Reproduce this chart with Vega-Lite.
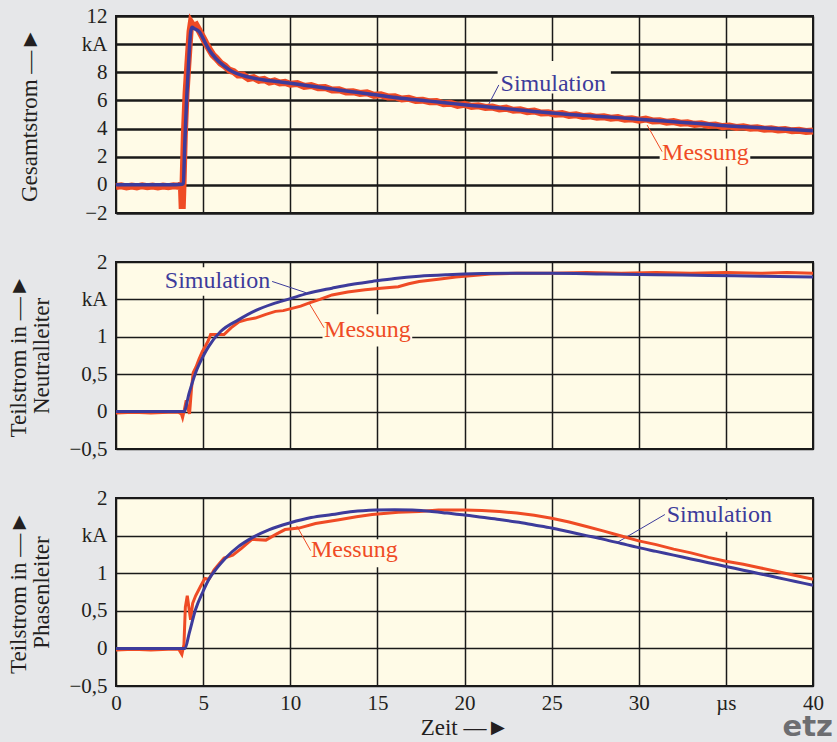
{
  "$schema": "https://vega.github.io/schema/vega-lite/v6.json",
  "background": "#e6e7e9",
  "padding": {"left": 6, "top": 4, "right": 20, "bottom": 0},
  "bounds": "flush",
  "spacing": 49,
  "title": {"text": "etz", "orient": "bottom", "anchor": "end", "font": "DejaVu Sans", "fontSize": 29, "fontWeight": "bold", "color": "#6d6e71", "offset": -27, "dx": 5},
  "datasets": {
    "curves": [
      {"p":1,"s":"Simulation","t":0,"v":0},{"p":1,"s":"Simulation","t":1,"v":0},{"p":1,"s":"Simulation","t":2,"v":0},{"p":1,"s":"Simulation","t":3,"v":0},{"p":1,"s":"Simulation","t":3.8,"v":0.05},{"p":1,"s":"Simulation","t":3.86,"v":0.1},{"p":1,"s":"Simulation","t":3.95,"v":3.0},{"p":1,"s":"Simulation","t":4.05,"v":6.0},{"p":1,"s":"Simulation","t":4.15,"v":8.3},{"p":1,"s":"Simulation","t":4.28,"v":10.8},{"p":1,"s":"Simulation","t":4.36,"v":11.2},{"p":1,"s":"Simulation","t":4.5,"v":11.1},{"p":1,"s":"Simulation","t":4.76,"v":10.9},{"p":1,"s":"Simulation","t":5.0,"v":10.4},{"p":1,"s":"Simulation","t":5.14,"v":10.05},{"p":1,"s":"Simulation","t":5.4,"v":9.5},{"p":1,"s":"Simulation","t":5.72,"v":9.0},{"p":1,"s":"Simulation","t":6.2,"v":8.45},{"p":1,"s":"Simulation","t":6.67,"v":8.05},{"p":1,"s":"Simulation","t":7.2,"v":7.8},{"p":1,"s":"Simulation","t":7.82,"v":7.6},{"p":1,"s":"Simulation","t":8.5,"v":7.45},{"p":1,"s":"Simulation","t":9.35,"v":7.33},{"p":1,"s":"Simulation","t":10,"v":7.22},{"p":1,"s":"Simulation","t":11,"v":7.05},{"p":1,"s":"Simulation","t":12,"v":6.88},{"p":1,"s":"Simulation","t":13,"v":6.7},{"p":1,"s":"Simulation","t":14,"v":6.55},{"p":1,"s":"Simulation","t":15,"v":6.38},{"p":1,"s":"Simulation","t":16.24,"v":6.17},{"p":1,"s":"Simulation","t":17,"v":6.07},{"p":1,"s":"Simulation","t":18,"v":5.95},{"p":1,"s":"Simulation","t":19,"v":5.82},{"p":1,"s":"Simulation","t":20,"v":5.69},{"p":1,"s":"Simulation","t":21,"v":5.58},{"p":1,"s":"Simulation","t":22,"v":5.46},{"p":1,"s":"Simulation","t":23,"v":5.34},{"p":1,"s":"Simulation","t":24,"v":5.22},{"p":1,"s":"Simulation","t":25,"v":5.1},{"p":1,"s":"Simulation","t":26,"v":5.0},{"p":1,"s":"Simulation","t":27,"v":4.92},{"p":1,"s":"Simulation","t":28,"v":4.84},{"p":1,"s":"Simulation","t":29,"v":4.76},{"p":1,"s":"Simulation","t":30,"v":4.67},{"p":1,"s":"Simulation","t":31,"v":4.58},{"p":1,"s":"Simulation","t":32,"v":4.48},{"p":1,"s":"Simulation","t":33,"v":4.39},{"p":1,"s":"Simulation","t":34,"v":4.3},{"p":1,"s":"Simulation","t":35,"v":4.2},{"p":1,"s":"Simulation","t":36,"v":4.13},{"p":1,"s":"Simulation","t":37,"v":4.06},{"p":1,"s":"Simulation","t":38,"v":3.99},{"p":1,"s":"Simulation","t":39,"v":3.92},{"p":1,"s":"Simulation","t":40,"v":3.85},
      {"p":1,"s":"Messung","t":0,"v":-0.12},{"p":1,"s":"Messung","t":0.3,"v":-0.07},{"p":1,"s":"Messung","t":0.6,"v":-0.15},{"p":1,"s":"Messung","t":0.9,"v":-0.08},{"p":1,"s":"Messung","t":1.2,"v":-0.14},{"p":1,"s":"Messung","t":1.5,"v":-0.06},{"p":1,"s":"Messung","t":1.8,"v":-0.13},{"p":1,"s":"Messung","t":2.1,"v":-0.09},{"p":1,"s":"Messung","t":2.4,"v":-0.15},{"p":1,"s":"Messung","t":2.7,"v":-0.08},{"p":1,"s":"Messung","t":3.0,"v":-0.13},{"p":1,"s":"Messung","t":3.3,"v":-0.06},{"p":1,"s":"Messung","t":3.6,"v":-0.1},{"p":1,"s":"Messung","t":3.75,"v":0.05},{"p":1,"s":"Messung","t":3.8,"v":-1.7},{"p":1,"s":"Messung","t":3.85,"v":0.2},{"p":1,"s":"Messung","t":3.92,"v":3.5},{"p":1,"s":"Messung","t":4.02,"v":6.5},{"p":1,"s":"Messung","t":4.12,"v":8.5},{"p":1,"s":"Messung","t":4.25,"v":10.9},{"p":1,"s":"Messung","t":4.32,"v":11.5},{"p":1,"s":"Messung","t":4.45,"v":11.25},{"p":1,"s":"Messung","t":4.6,"v":11.35},{"p":1,"s":"Messung","t":4.76,"v":11.0},{"p":1,"s":"Messung","t":4.95,"v":10.55},{"p":1,"s":"Messung","t":5.14,"v":10.1},{"p":1,"s":"Messung","t":5.35,"v":9.65},{"p":1,"s":"Messung","t":5.55,"v":9.25},{"p":1,"s":"Messung","t":5.75,"v":9.0},{"p":1,"s":"Messung","t":6.0,"v":8.65},{"p":1,"s":"Messung","t":6.25,"v":8.45},{"p":1,"s":"Messung","t":6.5,"v":8.15},{"p":1,"s":"Messung","t":6.75,"v":8.05},{"p":1,"s":"Messung","t":7.0,"v":7.8},{"p":1,"s":"Messung","t":7.3,"v":7.8},{"p":1,"s":"Messung","t":7.6,"v":7.55},{"p":1,"s":"Messung","t":7.9,"v":7.62},{"p":1,"s":"Messung","t":8.2,"v":7.43},{"p":1,"s":"Messung","t":8.5,"v":7.5},{"p":1,"s":"Messung","t":8.8,"v":7.3},{"p":1,"s":"Messung","t":9.1,"v":7.38},{"p":1,"s":"Messung","t":9.4,"v":7.24},{"p":1,"s":"Messung","t":9.7,"v":7.28},{"p":1,"s":"Messung","t":10.0,"v":7.15},{"p":1,"s":"Messung","t":10.4,"v":7.2},{"p":1,"s":"Messung","t":10.8,"v":7.0},{"p":1,"s":"Messung","t":11.2,"v":7.06},{"p":1,"s":"Messung","t":11.6,"v":6.9},{"p":1,"s":"Messung","t":12.0,"v":6.92},{"p":1,"s":"Messung","t":12.4,"v":6.74},{"p":1,"s":"Messung","t":12.8,"v":6.76},{"p":1,"s":"Messung","t":13.2,"v":6.6},{"p":1,"s":"Messung","t":13.6,"v":6.62},{"p":1,"s":"Messung","t":14.0,"v":6.5},{"p":1,"s":"Messung","t":14.4,"v":6.54},{"p":1,"s":"Messung","t":14.8,"v":6.36},{"p":1,"s":"Messung","t":15.2,"v":6.4},{"p":1,"s":"Messung","t":15.6,"v":6.25},{"p":1,"s":"Messung","t":16.0,"v":6.26},{"p":1,"s":"Messung","t":16.4,"v":6.1},{"p":1,"s":"Messung","t":16.8,"v":6.15},{"p":1,"s":"Messung","t":17.2,"v":6.0},{"p":1,"s":"Messung","t":17.6,"v":6.02},{"p":1,"s":"Messung","t":18.0,"v":5.9},{"p":1,"s":"Messung","t":18.4,"v":5.93},{"p":1,"s":"Messung","t":18.8,"v":5.76},{"p":1,"s":"Messung","t":19.2,"v":5.8},{"p":1,"s":"Messung","t":19.6,"v":5.65},{"p":1,"s":"Messung","t":20.0,"v":5.72},{"p":1,"s":"Messung","t":20.4,"v":5.58},{"p":1,"s":"Messung","t":20.8,"v":5.62},{"p":1,"s":"Messung","t":21.2,"v":5.5},{"p":1,"s":"Messung","t":21.6,"v":5.53},{"p":1,"s":"Messung","t":22.0,"v":5.4},{"p":1,"s":"Messung","t":22.4,"v":5.45},{"p":1,"s":"Messung","t":22.8,"v":5.3},{"p":1,"s":"Messung","t":23.2,"v":5.33},{"p":1,"s":"Messung","t":23.6,"v":5.2},{"p":1,"s":"Messung","t":24.0,"v":5.25},{"p":1,"s":"Messung","t":24.4,"v":5.1},{"p":1,"s":"Messung","t":24.8,"v":5.13},{"p":1,"s":"Messung","t":25.2,"v":5.02},{"p":1,"s":"Messung","t":25.6,"v":5.06},{"p":1,"s":"Messung","t":26.0,"v":4.93},{"p":1,"s":"Messung","t":26.4,"v":4.98},{"p":1,"s":"Messung","t":26.8,"v":4.86},{"p":1,"s":"Messung","t":27.2,"v":4.9},{"p":1,"s":"Messung","t":27.6,"v":4.8},{"p":1,"s":"Messung","t":28.0,"v":4.84},{"p":1,"s":"Messung","t":28.4,"v":4.74},{"p":1,"s":"Messung","t":28.8,"v":4.78},{"p":1,"s":"Messung","t":29.2,"v":4.66},{"p":1,"s":"Messung","t":29.6,"v":4.7},{"p":1,"s":"Messung","t":30.0,"v":4.6},{"p":1,"s":"Messung","t":30.4,"v":4.68},{"p":1,"s":"Messung","t":30.8,"v":4.54},{"p":1,"s":"Messung","t":31.2,"v":4.56},{"p":1,"s":"Messung","t":31.6,"v":4.45},{"p":1,"s":"Messung","t":32.0,"v":4.5},{"p":1,"s":"Messung","t":32.4,"v":4.38},{"p":1,"s":"Messung","t":32.8,"v":4.41},{"p":1,"s":"Messung","t":33.2,"v":4.3},{"p":1,"s":"Messung","t":33.6,"v":4.34},{"p":1,"s":"Messung","t":34.0,"v":4.22},{"p":1,"s":"Messung","t":34.4,"v":4.26},{"p":1,"s":"Messung","t":34.8,"v":4.14},{"p":1,"s":"Messung","t":35.2,"v":4.18},{"p":1,"s":"Messung","t":35.6,"v":4.08},{"p":1,"s":"Messung","t":36.0,"v":4.12},{"p":1,"s":"Messung","t":36.4,"v":4.02},{"p":1,"s":"Messung","t":36.8,"v":4.06},{"p":1,"s":"Messung","t":37.2,"v":3.96},{"p":1,"s":"Messung","t":37.6,"v":3.99},{"p":1,"s":"Messung","t":38.0,"v":3.9},{"p":1,"s":"Messung","t":38.4,"v":3.94},{"p":1,"s":"Messung","t":38.8,"v":3.84},{"p":1,"s":"Messung","t":39.2,"v":3.88},{"p":1,"s":"Messung","t":39.6,"v":3.8},{"p":1,"s":"Messung","t":40.0,"v":3.83},
      {"p":2,"s":"Simulation","t":0,"v":0},{"p":2,"s":"Simulation","t":3.9,"v":0},{"p":2,"s":"Simulation","t":4.2,"v":0.25},{"p":2,"s":"Simulation","t":4.57,"v":0.52},{"p":2,"s":"Simulation","t":5.0,"v":0.74},{"p":2,"s":"Simulation","t":5.33,"v":0.875},{"p":2,"s":"Simulation","t":6.0,"v":1.07},{"p":2,"s":"Simulation","t":7.05,"v":1.23},{"p":2,"s":"Simulation","t":8.0,"v":1.35},{"p":2,"s":"Simulation","t":9.0,"v":1.44},{"p":2,"s":"Simulation","t":10,"v":1.51},{"p":2,"s":"Simulation","t":11,"v":1.58},{"p":2,"s":"Simulation","t":12.4,"v":1.65},{"p":2,"s":"Simulation","t":13.5,"v":1.7},{"p":2,"s":"Simulation","t":14.7,"v":1.74},{"p":2,"s":"Simulation","t":16,"v":1.78},{"p":2,"s":"Simulation","t":17.4,"v":1.81},{"p":2,"s":"Simulation","t":19,"v":1.83},{"p":2,"s":"Simulation","t":21,"v":1.845},{"p":2,"s":"Simulation","t":23,"v":1.85},{"p":2,"s":"Simulation","t":25,"v":1.85},{"p":2,"s":"Simulation","t":28,"v":1.84},{"p":2,"s":"Simulation","t":31,"v":1.83},{"p":2,"s":"Simulation","t":34,"v":1.82},{"p":2,"s":"Simulation","t":37,"v":1.81},{"p":2,"s":"Simulation","t":40,"v":1.8},
      {"p":2,"s":"Messung","t":0,"v":-0.02},{"p":2,"s":"Messung","t":1,"v":-0.01},{"p":2,"s":"Messung","t":2,"v":-0.02},{"p":2,"s":"Messung","t":3,"v":-0.01},{"p":2,"s":"Messung","t":3.6,"v":-0.01},{"p":2,"s":"Messung","t":3.75,"v":-0.03},{"p":2,"s":"Messung","t":3.82,"v":-0.08},{"p":2,"s":"Messung","t":3.92,"v":0.02},{"p":2,"s":"Messung","t":4.03,"v":0.15},{"p":2,"s":"Messung","t":4.12,"v":0.05},{"p":2,"s":"Messung","t":4.22,"v":-0.03},{"p":2,"s":"Messung","t":4.33,"v":0.3},{"p":2,"s":"Messung","t":4.43,"v":0.52},{"p":2,"s":"Messung","t":4.6,"v":0.6},{"p":2,"s":"Messung","t":4.76,"v":0.7},{"p":2,"s":"Messung","t":4.95,"v":0.8},{"p":2,"s":"Messung","t":5.14,"v":0.88},{"p":2,"s":"Messung","t":5.3,"v":0.95},{"p":2,"s":"Messung","t":5.43,"v":1.03},{"p":2,"s":"Messung","t":5.8,"v":1.03},{"p":2,"s":"Messung","t":6.2,"v":1.03},{"p":2,"s":"Messung","t":6.6,"v":1.12},{"p":2,"s":"Messung","t":7.06,"v":1.2},{"p":2,"s":"Messung","t":7.5,"v":1.23},{"p":2,"s":"Messung","t":8.0,"v":1.25},{"p":2,"s":"Messung","t":8.6,"v":1.3},{"p":2,"s":"Messung","t":9.15,"v":1.34},{"p":2,"s":"Messung","t":9.6,"v":1.35},{"p":2,"s":"Messung","t":10.1,"v":1.38},{"p":2,"s":"Messung","t":10.6,"v":1.41},{"p":2,"s":"Messung","t":11.06,"v":1.45},{"p":2,"s":"Messung","t":11.7,"v":1.5},{"p":2,"s":"Messung","t":12.4,"v":1.56},{"p":2,"s":"Messung","t":13.3,"v":1.6},{"p":2,"s":"Messung","t":14.3,"v":1.63},{"p":2,"s":"Messung","t":15.2,"v":1.65},{"p":2,"s":"Messung","t":16.2,"v":1.67},{"p":2,"s":"Messung","t":16.8,"v":1.71},{"p":2,"s":"Messung","t":17.4,"v":1.74},{"p":2,"s":"Messung","t":18.5,"v":1.77},{"p":2,"s":"Messung","t":19.5,"v":1.8},{"p":2,"s":"Messung","t":20.5,"v":1.82},{"p":2,"s":"Messung","t":21.5,"v":1.84},{"p":2,"s":"Messung","t":23,"v":1.85},{"p":2,"s":"Messung","t":25,"v":1.85},{"p":2,"s":"Messung","t":27,"v":1.86},{"p":2,"s":"Messung","t":29,"v":1.85},{"p":2,"s":"Messung","t":31,"v":1.86},{"p":2,"s":"Messung","t":33,"v":1.85},{"p":2,"s":"Messung","t":35,"v":1.86},{"p":2,"s":"Messung","t":37,"v":1.85},{"p":2,"s":"Messung","t":38.5,"v":1.86},{"p":2,"s":"Messung","t":40,"v":1.85},
      {"p":3,"s":"Simulation","t":0,"v":0},{"p":3,"s":"Simulation","t":3.96,"v":0},{"p":3,"s":"Simulation","t":4.2,"v":0.2},{"p":3,"s":"Simulation","t":4.57,"v":0.52},{"p":3,"s":"Simulation","t":5.0,"v":0.76},{"p":3,"s":"Simulation","t":5.33,"v":0.92},{"p":3,"s":"Simulation","t":5.8,"v":1.07},{"p":3,"s":"Simulation","t":6.28,"v":1.2},{"p":3,"s":"Simulation","t":7.0,"v":1.35},{"p":3,"s":"Simulation","t":7.8,"v":1.47},{"p":3,"s":"Simulation","t":8.8,"v":1.58},{"p":3,"s":"Simulation","t":10,"v":1.67},{"p":3,"s":"Simulation","t":11.2,"v":1.74},{"p":3,"s":"Simulation","t":12.4,"v":1.78},{"p":3,"s":"Simulation","t":13.6,"v":1.82},{"p":3,"s":"Simulation","t":14.9,"v":1.84},{"p":3,"s":"Simulation","t":16,"v":1.845},{"p":3,"s":"Simulation","t":17,"v":1.84},{"p":3,"s":"Simulation","t":18,"v":1.825},{"p":3,"s":"Simulation","t":19,"v":1.8},{"p":3,"s":"Simulation","t":20,"v":1.775},{"p":3,"s":"Simulation","t":21,"v":1.745},{"p":3,"s":"Simulation","t":22,"v":1.715},{"p":3,"s":"Simulation","t":23,"v":1.68},{"p":3,"s":"Simulation","t":24,"v":1.64},{"p":3,"s":"Simulation","t":25,"v":1.6},{"p":3,"s":"Simulation","t":26,"v":1.55},{"p":3,"s":"Simulation","t":27,"v":1.5},{"p":3,"s":"Simulation","t":28,"v":1.45},{"p":3,"s":"Simulation","t":29,"v":1.395},{"p":3,"s":"Simulation","t":30,"v":1.34},{"p":3,"s":"Simulation","t":31,"v":1.29},{"p":3,"s":"Simulation","t":32,"v":1.24},{"p":3,"s":"Simulation","t":33,"v":1.19},{"p":3,"s":"Simulation","t":34,"v":1.14},{"p":3,"s":"Simulation","t":35,"v":1.09},{"p":3,"s":"Simulation","t":36,"v":1.04},{"p":3,"s":"Simulation","t":37,"v":0.99},{"p":3,"s":"Simulation","t":38,"v":0.94},{"p":3,"s":"Simulation","t":39,"v":0.89},{"p":3,"s":"Simulation","t":40,"v":0.84},
      {"p":3,"s":"Messung","t":0,"v":-0.02},{"p":3,"s":"Messung","t":1,"v":-0.01},{"p":3,"s":"Messung","t":2,"v":-0.02},{"p":3,"s":"Messung","t":3,"v":-0.01},{"p":3,"s":"Messung","t":3.6,"v":-0.01},{"p":3,"s":"Messung","t":3.78,"v":-0.08},{"p":3,"s":"Messung","t":3.9,"v":0.05},{"p":3,"s":"Messung","t":3.98,"v":0.55},{"p":3,"s":"Messung","t":4.09,"v":0.7},{"p":3,"s":"Messung","t":4.18,"v":0.55},{"p":3,"s":"Messung","t":4.28,"v":0.38},{"p":3,"s":"Messung","t":4.4,"v":0.6},{"p":3,"s":"Messung","t":4.57,"v":0.7},{"p":3,"s":"Messung","t":4.86,"v":0.83},{"p":3,"s":"Messung","t":5.1,"v":0.93},{"p":3,"s":"Messung","t":5.33,"v":0.92},{"p":3,"s":"Messung","t":5.62,"v":1.04},{"p":3,"s":"Messung","t":5.9,"v":1.12},{"p":3,"s":"Messung","t":6.2,"v":1.2},{"p":3,"s":"Messung","t":6.7,"v":1.24},{"p":3,"s":"Messung","t":7.2,"v":1.33},{"p":3,"s":"Messung","t":7.8,"v":1.45},{"p":3,"s":"Messung","t":8.6,"v":1.44},{"p":3,"s":"Messung","t":9.2,"v":1.52},{"p":3,"s":"Messung","t":9.7,"v":1.58},{"p":3,"s":"Messung","t":10.5,"v":1.6},{"p":3,"s":"Messung","t":11.45,"v":1.66},{"p":3,"s":"Messung","t":12.8,"v":1.71},{"p":3,"s":"Messung","t":13.8,"v":1.75},{"p":3,"s":"Messung","t":14.7,"v":1.78},{"p":3,"s":"Messung","t":16.2,"v":1.81},{"p":3,"s":"Messung","t":17.4,"v":1.82},{"p":3,"s":"Messung","t":18.5,"v":1.84},{"p":3,"s":"Messung","t":20,"v":1.84},{"p":3,"s":"Messung","t":21,"v":1.835},{"p":3,"s":"Messung","t":22,"v":1.82},{"p":3,"s":"Messung","t":23,"v":1.8},{"p":3,"s":"Messung","t":24,"v":1.77},{"p":3,"s":"Messung","t":25,"v":1.73},{"p":3,"s":"Messung","t":26,"v":1.68},{"p":3,"s":"Messung","t":27,"v":1.62},{"p":3,"s":"Messung","t":28,"v":1.56},{"p":3,"s":"Messung","t":29,"v":1.495},{"p":3,"s":"Messung","t":30,"v":1.43},{"p":3,"s":"Messung","t":31,"v":1.38},{"p":3,"s":"Messung","t":32,"v":1.32},{"p":3,"s":"Messung","t":33,"v":1.27},{"p":3,"s":"Messung","t":34,"v":1.21},{"p":3,"s":"Messung","t":35,"v":1.16},{"p":3,"s":"Messung","t":36,"v":1.12},{"p":3,"s":"Messung","t":37,"v":1.07},{"p":3,"s":"Messung","t":38,"v":1.02},{"p":3,"s":"Messung","t":39,"v":0.97},{"p":3,"s":"Messung","t":40,"v":0.92}
    ],
    "labels": [
      {"p":1,"s":"Simulation","t":22.07,"v":7.17},{"p":1,"s":"Messung","t":31.34,"v":2.28},
      {"p":2,"s":"Simulation","t":2.8,"v":1.74},{"p":2,"s":"Messung","t":11.94,"v":1.09},
      {"p":3,"s":"Messung","t":11.19,"v":1.31},{"p":3,"s":"Simulation","t":31.6,"v":1.78}
    ],
    "leaders": [
      {"p":1,"s":"Simulation","t":21.4,"v":5.75,"t2":21.97,"v2":7.1},{"p":1,"s":"Messung","t":30.48,"v":4.25,"t2":31.34,"v2":2.36},
      {"p":2,"s":"Simulation","t":8.96,"v":1.74,"t2":10.9,"v2":1.59},{"p":2,"s":"Messung","t":11.08,"v":1.45,"t2":11.94,"v2":1.12},
      {"p":3,"s":"Messung","t":10.37,"v":1.63,"t2":11.17,"v2":1.3},{"p":3,"s":"Simulation","t":28.77,"v":1.41,"t2":31.5,"v2":1.78}
    ],
    "boxes": [
      {"p":1,"t":21.9,"t2":28.4,"v":6.5,"v2":8.8},{"p":1,"t":31.2,"t2":36.4,"v":1.3,"v2":3.3},
      {"p":2,"t":2.7,"t2":9.1,"v":1.55,"v2":1.93},{"p":2,"t":11.85,"t2":17.0,"v":0.87,"v2":1.3},
      {"p":3,"t":11.05,"t2":16.3,"v":1.08,"v2":1.45},{"p":3,"t":31.45,"t2":37.9,"v":1.55,"v2":1.975}
    ]
  },
  "vconcat": [
    {
      "width": 697, "height": 197,
      "encoding": {
        "x": {"field": "t", "type": "quantitative", "scale": {"domain": [0, 40], "nice": false, "zero": false},
              "axis": {"values": [0,5,10,15,20,25,30,35,40], "labels": false, "ticks": false, "domain": false, "title": null, "gridWidth": 1.5}},
        "y": {"field": "v", "type": "quantitative", "scale": {"domain": [-2, 12], "nice": false, "zero": false},
              "axis": {"values": [-2,0,2,4,6,8,10,12], "format": "~g", "labelExpr": "datum.value == 10 ? 'kA' : datum.label", "ticks": false, "domain": false, "gridWidth": 2.5, "title": "Gesamtstrom —►", "titlePadding": 40}}
      },
      "layer": [
        {"data": {"name": "boxes"}, "transform": [{"filter": "datum.p == 1"}], "mark": {"type": "rect", "fill": "#fffbe7"}, "encoding": {"x2": {"field": "t2"}, "y2": {"field": "v2"}}},
        {"data": {"name": "leaders"}, "transform": [{"filter": "datum.p == 1"}], "mark": {"type": "rule", "strokeWidth": 1}, "encoding": {"x2": {"field": "t2"}, "y2": {"field": "v2"}, "color": {"field": "s", "type": "nominal", "scale": {"domain": ["Messung", "Simulation"], "range": ["#ef4b25", "#3d3b9b"]}, "legend": null}}},
        {"data": {"name": "curves"}, "transform": [{"filter": "datum.p == 1 && datum.s == 'Messung'"}], "mark": {"type": "line", "strokeWidth": 7, "color": "#ef4b25", "strokeJoin": "miter"}, "encoding": {}},
        {"data": {"name": "curves"}, "transform": [{"filter": "datum.p == 1 && datum.s == 'Simulation'"}], "mark": {"type": "line", "strokeWidth": 3.5, "color": "#3d3b9b", "interpolate": "monotone"}, "encoding": {}},
        {"data": {"name": "labels"}, "transform": [{"filter": "datum.p == 1"}], "mark": {"type": "text", "align": "left", "baseline": "middle"}, "encoding": {"text": {"field": "s"}, "color": {"field": "s", "type": "nominal", "scale": {"domain": ["Messung", "Simulation"], "range": ["#ef4b25", "#45439f"]}, "legend": null}}}
      ]
    },
    {
      "width": 697, "height": 187,
      "encoding": {
        "x": {"field": "t", "type": "quantitative", "scale": {"domain": [0, 40], "nice": false, "zero": false},
              "axis": {"values": [0,5,10,15,20,25,30,35,40], "labels": false, "ticks": false, "domain": false, "title": null, "gridWidth": 1.5}},
        "y": {"field": "v", "type": "quantitative", "scale": {"domain": [-0.5, 2], "nice": false, "zero": false},
              "axis": {"values": [-0.5,0,0.5,1,1.5,2], "format": "~g", "labelExpr": "datum.value == 1.5 ? 'kA' : replace(datum.label, '.', ',')", "ticks": false, "domain": false, "gridWidth": 1.6, "title": ["Teilstrom in —►", "Neutralleiter"], "titlePadding": 15}}
      },
      "layer": [
        {"data": {"name": "boxes"}, "transform": [{"filter": "datum.p == 2"}], "mark": {"type": "rect", "fill": "#fffbe7"}, "encoding": {"x2": {"field": "t2"}, "y2": {"field": "v2"}}},
        {"data": {"name": "leaders"}, "transform": [{"filter": "datum.p == 2"}], "mark": {"type": "rule", "strokeWidth": 1}, "encoding": {"x2": {"field": "t2"}, "y2": {"field": "v2"}, "color": {"field": "s", "type": "nominal", "scale": {"domain": ["Messung", "Simulation"], "range": ["#ef4b25", "#3d3b9b"]}, "legend": null}}},
        {"data": {"name": "curves"}, "transform": [{"filter": "datum.p == 2 && datum.s == 'Messung'"}], "mark": {"type": "line", "strokeWidth": 3, "color": "#ef4b25"}, "encoding": {}},
        {"data": {"name": "curves"}, "transform": [{"filter": "datum.p == 2 && datum.s == 'Simulation'"}], "mark": {"type": "line", "strokeWidth": 3, "color": "#3d3b9b", "interpolate": "monotone"}, "encoding": {}},
        {"data": {"name": "labels"}, "transform": [{"filter": "datum.p == 2"}], "mark": {"type": "text", "align": "left", "baseline": "middle"}, "encoding": {"text": {"field": "s"}, "color": {"field": "s", "type": "nominal", "scale": {"domain": ["Messung", "Simulation"], "range": ["#ef4b25", "#45439f"]}, "legend": null}}}
      ]
    },
    {
      "width": 697, "height": 188,
      "encoding": {
        "x": {"field": "t", "type": "quantitative", "scale": {"domain": [0, 40], "nice": false, "zero": false},
              "axis": {"values": [0,5,10,15,20,25,30,35,40], "format": "~g", "labelExpr": "datum.value == 35 ? 'µs' : datum.label", "labelFlush": false, "labelPadding": 6, "ticks": false, "domain": false, "gridWidth": 1.5, "title": "Zeit —►", "titlePadding": 3}},
        "y": {"field": "v", "type": "quantitative", "scale": {"domain": [-0.5, 2], "nice": false, "zero": false},
              "axis": {"values": [-0.5,0,0.5,1,1.5,2], "format": "~g", "labelExpr": "datum.value == 1.5 ? 'kA' : replace(datum.label, '.', ',')", "ticks": false, "domain": false, "gridWidth": 1.6, "title": ["Teilstrom in —►", "Phasenleiter"], "titlePadding": 15}}
      },
      "layer": [
        {"data": {"name": "boxes"}, "transform": [{"filter": "datum.p == 3"}], "mark": {"type": "rect", "fill": "#fffbe7"}, "encoding": {"x2": {"field": "t2"}, "y2": {"field": "v2"}}},
        {"data": {"name": "leaders"}, "transform": [{"filter": "datum.p == 3"}], "mark": {"type": "rule", "strokeWidth": 1}, "encoding": {"x2": {"field": "t2"}, "y2": {"field": "v2"}, "color": {"field": "s", "type": "nominal", "scale": {"domain": ["Messung", "Simulation"], "range": ["#ef4b25", "#3d3b9b"]}, "legend": null}}},
        {"data": {"name": "curves"}, "transform": [{"filter": "datum.p == 3 && datum.s == 'Messung'"}], "mark": {"type": "line", "strokeWidth": 3, "color": "#ef4b25"}, "encoding": {}},
        {"data": {"name": "curves"}, "transform": [{"filter": "datum.p == 3 && datum.s == 'Simulation'"}], "mark": {"type": "line", "strokeWidth": 3, "color": "#3d3b9b", "interpolate": "monotone"}, "encoding": {}},
        {"data": {"name": "labels"}, "transform": [{"filter": "datum.p == 3"}], "mark": {"type": "text", "align": "left", "baseline": "middle"}, "encoding": {"text": {"field": "s"}, "color": {"field": "s", "type": "nominal", "scale": {"domain": ["Messung", "Simulation"], "range": ["#ef4b25", "#45439f"]}, "legend": null}}}
      ]
    }
  ],
  "config": {
    "view": {"fill": "#fffbe7", "stroke": "#1a1a1a", "strokeWidth": 2},
    "axis": {"labelFont": "Liberation Serif", "labelFontSize": 21, "labelColor": "#231f20", "labelPadding": 9, "labelFlush": false, "labelOverlap": false,
             "titleFont": "Liberation Serif", "titleFontSize": 23, "titleFontWeight": "normal", "titleColor": "#231f20", "titleLineHeight": 23,
             "grid": true, "gridColor": "#1a1a1a", "gridOpacity": 1},
    "text": {"font": "Liberation Serif", "fontSize": 24},
    "line": {"strokeCap": "butt"}
  }
}
